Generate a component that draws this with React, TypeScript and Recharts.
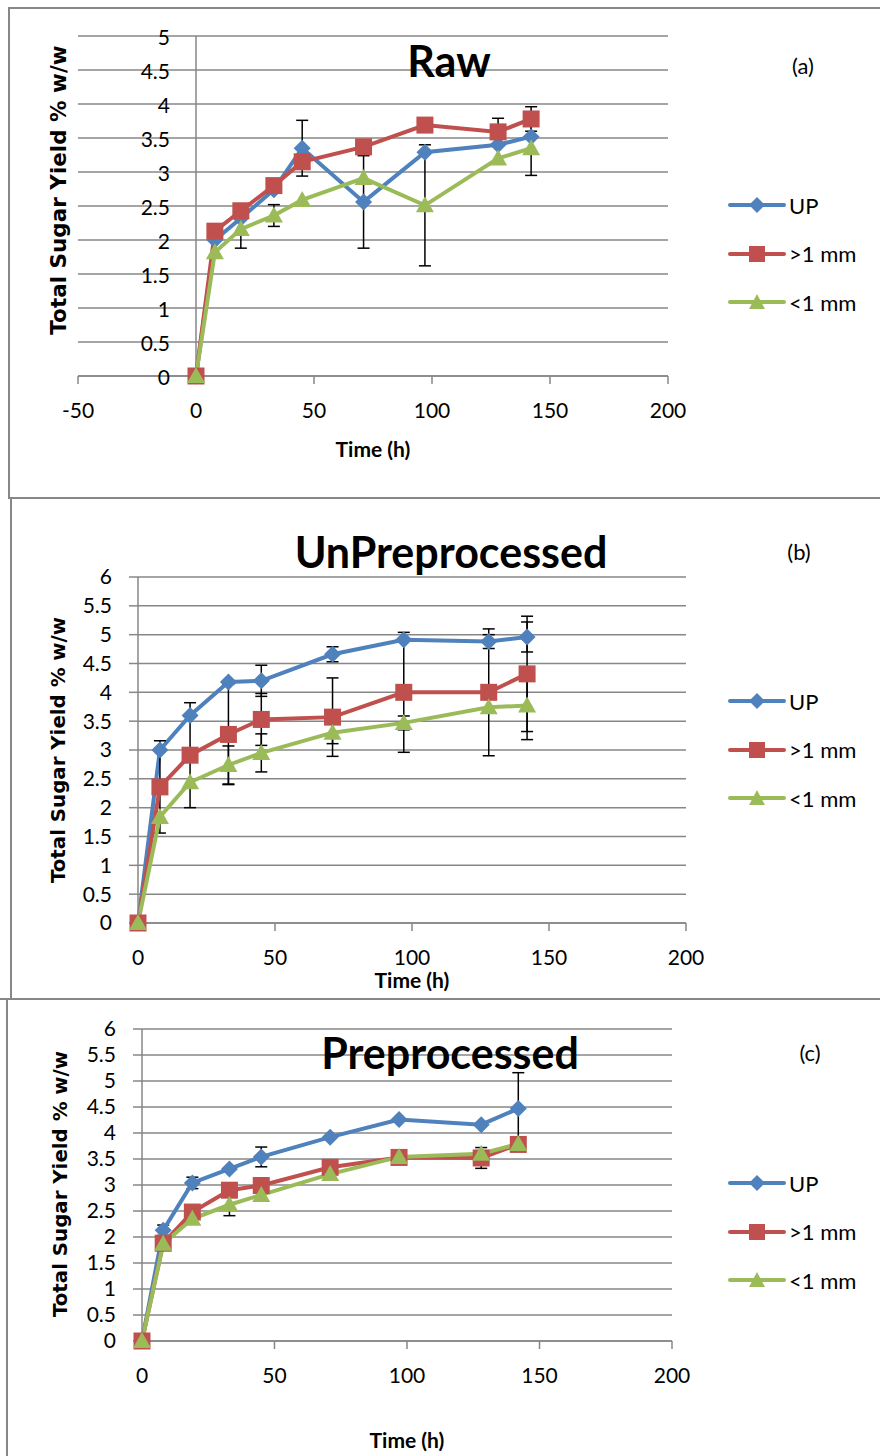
import React from 'react'
import {
  LineChart,
  Line,
  XAxis,
  YAxis,
  CartesianGrid,
  ErrorBar,
  ReferenceLine,
  Legend,
} from 'recharts'

const FONT = 'Lato, "Open Sans", sans-serif'
const LABEL_FONT = '"DejaVu Sans", Verdana, sans-serif'
const GRID = '#878787'
const BLUE = '#4f81bd'
const RED = '#c0504d'
const GREEN = '#9bbb59'
const WIDTH = 880

// sampling times (h), shared by all three panels
const hours = [0, 8, 19, 33, 45, 71, 97, 128, 142]
const seriesNames = ['UP', '>1 mm', '<1 mm']

// (a) Raw
const rawUp = [0, 2.0, 2.32, 2.74, 3.35, 2.56, 3.29, 3.4, 3.52]
const rawUpErr = [0, 0, 0, 0, 0.41, 0.68, 0, 0, 0]
const rawOver = [0, 2.13, 2.43, 2.8, 3.15, 3.37, 3.69, 3.59, 3.78]
const rawOverErr = [0, 0, 0, 0, 0, 0, 0, 0.2, 0.18]
const rawUnder = [0, 1.82, 2.16, 2.36, 2.59, 2.91, 2.51, 3.2, 3.35]
const rawUnderErr = [0, 0, 0.28, 0.16, 0, 0, 0.89, 0, 0.4]

// (b) UnPreprocessed
const unUp = [0, 3.0, 3.6, 4.18, 4.2, 4.66, 4.91, 4.88, 4.96]
const unUpErr = [0, 0, 0, 0, 0.27, 0.13, 0, 0.12, 0.26]
const unOver = [0, 2.36, 2.91, 3.27, 3.53, 3.57, 4.0, 4.0, 4.32]
const unOverErr = [0, 0.8, 0.91, 0.87, 0.45, 0.68, 1.04, 1.1, 1.0]
const unUnder = [0, 1.84, 2.44, 2.74, 2.95, 3.3, 3.47, 3.74, 3.77]
const unUnderErr = [0, 0, 0, 0.33, 0.33, 0.19, 0.12, 0, 0.59]

// (c) Preprocessed
const preUp = [0, 2.13, 3.04, 3.31, 3.54, 3.92, 4.26, 4.16, 4.47]
const preUpErr = [0, 0.1, 0.11, 0, 0.19, 0, 0, 0, 0.69]
const preOver = [0, 1.88, 2.48, 2.9, 2.99, 3.34, 3.53, 3.52, 3.78]
const preOverErr = [0, 0, 0, 0, 0, 0, 0, 0.2, 0]
const preUnder = [0, 1.87, 2.35, 2.62, 2.81, 3.21, 3.54, 3.6, 3.79]
const preUnderErr = [0, 0, 0, 0.21, 0, 0, 0, 0, 0]

const xTicksRaw = [-50, 0, 50, 100, 150, 200]
const xTicks = [0, 50, 100, 150, 200]
const yTicks5 = [0, 0.5, 1, 1.5, 2, 2.5, 3, 3.5, 4, 4.5, 5]
const yTicks6 = [0, 0.5, 1, 1.5, 2, 2.5, 3, 3.5, 4, 4.5, 5, 5.5, 6]

function buildRows(
  up: number[], upErr: number[],
  over: number[], overErr: number[],
  under: number[], underErr: number[],
) {
  return hours.map((t, i) => ({
    t,
    up: up[i], upErr: upErr[i],
    over: over[i], overErr: overErr[i],
    under: under[i], underErr: underErr[i],
  }))
}

function diamond(p: any) {
  const { cx, cy, index } = p
  const r = 8.5
  return (
    <polygon
      key={`d${index}`}
      points={`${cx},${cy - r} ${cx + r},${cy} ${cx},${cy + r} ${cx - r},${cy}`}
      fill={BLUE}
    />
  )
}

function square(p: any) {
  const { cx, cy, index } = p
  const r = 8.5
  return <rect key={`s${index}`} x={cx - r} y={cy - r} width={r * 2} height={r * 2} fill={RED} />
}

function triangle(p: any) {
  const { cx, cy, index } = p
  return (
    <polygon
      key={`t${index}`}
      points={`${cx},${cy - 9} ${cx + 9},${cy + 7} ${cx - 9},${cy + 7}`}
      fill={GREEN}
    />
  )
}

function LegendMarker({ i }: { i: number }) {
  const color = [BLUE, RED, GREEN][i]
  return (
    <svg width={60} height={20} style={{ display: 'block' }}>
      <line x1={3} y1={10} x2={57} y2={10} stroke={color} strokeWidth={4} strokeLinecap="round" />
      {i === 0 && <polygon points="30,2 38,10 30,18 22,10" fill={color} />}
      {i === 1 && <rect x={22} y={2} width={16} height={16} fill={color} />}
      {i === 2 && <polygon points="30,2 38,17 22,17" fill={color} />}
    </svg>
  )
}

function renderLegend() {
  return (
    <div>
      {seriesNames.map((name, i) => (
        <div key={name} style={{ display: 'flex', alignItems: 'center', height: 48.5 }}>
          <LegendMarker i={i} />
          <span style={{ fontFamily: FONT, fontSize: 22, color: '#000', marginLeft: 2 }}>{name}</span>
        </div>
      ))}
    </div>
  )
}

type PanelProps = {
  top: number
  height: number
  rows: ReturnType<typeof buildRows>
  xMin: number
  xTickList: number[]
  yMax: number
  yTickList: number[]
  margin: { top: number; right: number; left: number; bottom: number }
  yAxisWidth: number
  xAxisHeight: number
  labelOffset: number
  crossAtZero: boolean
  legendTop: number
  title: string
  titleX: number
  titleY: number
  tag: string
  tagX: number
  tagY: number
  yLabelX: number
  yLabelY: number
  yLabelSize: number
}

function Panel(p: PanelProps) {
  const plotLeft = p.margin.left + p.yAxisWidth
  const plotWidth = WIDTH - plotLeft - p.margin.right
  const zeroX = plotLeft + ((0 - p.xMin) / (200 - p.xMin)) * plotWidth

  const zeroTick = (t: any) => (
    <text
      x={zeroX - 26}
      y={t.y}
      textAnchor="end"
      dominantBaseline="central"
      fontSize={21}
      fontFamily={FONT}
      fill="#000"
    >
      {t.payload.value}
    </text>
  )

  return (
    <div style={{ position: 'absolute', left: 0, top: p.top, width: WIDTH, height: p.height }}>
      <LineChart width={WIDTH} height={p.height} data={p.rows} margin={p.margin}>
        <CartesianGrid vertical={false} stroke={GRID} strokeWidth={1.5} />
        <XAxis
          type="number"
          dataKey="t"
          domain={[p.xMin, 200]}
          ticks={p.xTickList}
          interval={0}
          height={p.xAxisHeight}
          axisLine={{ stroke: GRID, strokeWidth: 1.5 }}
          tickLine={{ stroke: GRID, strokeWidth: 1.5 }}
          tickSize={8}
          tickMargin={19}
          tick={{ fontSize: 21, fill: '#000', fontFamily: FONT }}
          label={{
            value: 'Time (h)',
            position: 'insideBottom',
            offset: p.labelOffset,
            fontSize: 21,
            fontWeight: 700,
            fill: '#000',
            fontFamily: FONT,
          }}
        />
        {p.crossAtZero ? (
          <YAxis
            type="number"
            domain={[0, p.yMax]}
            ticks={p.yTickList}
            interval={0}
            width={p.yAxisWidth}
            axisLine={false}
            tickLine={false}
            tick={zeroTick}
          />
        ) : (
          <YAxis
            type="number"
            domain={[0, p.yMax]}
            ticks={p.yTickList}
            interval={0}
            width={p.yAxisWidth}
            axisLine={{ stroke: GRID, strokeWidth: 1.5 }}
            tickLine={{ stroke: GRID, strokeWidth: 1.5 }}
            tickSize={9}
            tickMargin={17}
            tick={{ fontSize: 21, fill: '#000', fontFamily: FONT }}
          />
        )}
        {p.crossAtZero && <ReferenceLine x={0} stroke={GRID} strokeWidth={1.5} />}
        <Line
          dataKey="up"
          name={seriesNames[0]}
          stroke={BLUE}
          strokeWidth={4}
          dot={diamond}
          activeDot={false}
          isAnimationActive={false}
        >
          <ErrorBar dataKey="upErr" direction="y" width={6} stroke="#000" strokeWidth={1.5} isAnimationActive={false} />
        </Line>
        <Line
          dataKey="over"
          name={seriesNames[1]}
          stroke={RED}
          strokeWidth={4}
          dot={square}
          activeDot={false}
          isAnimationActive={false}
        >
          <ErrorBar dataKey="overErr" direction="y" width={6} stroke="#000" strokeWidth={1.5} isAnimationActive={false} />
        </Line>
        <Line
          dataKey="under"
          name={seriesNames[2]}
          stroke={GREEN}
          strokeWidth={4}
          dot={triangle}
          activeDot={false}
          isAnimationActive={false}
        >
          <ErrorBar dataKey="underErr" direction="y" width={6} stroke="#000" strokeWidth={1.5} isAnimationActive={false} />
        </Line>
        <Legend
          content={renderLegend}
          layout="vertical"
          align="center"
          verticalAlign="middle"
          wrapperStyle={{ left: 727, top: p.legendTop, width: 150 }}
        />
      </LineChart>
      <div
        style={{
          position: 'absolute',
          left: p.titleX,
          top: p.titleY,
          transform: 'translate(-50%, -50%)',
          fontFamily: FONT,
          fontWeight: 700,
          fontSize: 43,
          whiteSpace: 'nowrap',
          pointerEvents: 'none',
        }}
      >
        {p.title}
      </div>
      <div
        style={{
          position: 'absolute',
          left: p.tagX,
          top: p.tagY,
          transform: 'translate(-50%, -50%)',
          fontFamily: FONT,
          fontSize: 22,
          whiteSpace: 'nowrap',
        }}
      >
        {p.tag}
      </div>
      <div
        style={{
          position: 'absolute',
          left: p.yLabelX,
          top: p.yLabelY,
          transform: 'translate(-50%, -50%) rotate(-90deg)',
          fontFamily: LABEL_FONT,
          fontWeight: 700,
          fontSize: p.yLabelSize,
          whiteSpace: 'nowrap',
        }}
      >
        Total Sugar Yield % w/w
      </div>
    </div>
  )
}

const line = (left: number, top: number, width: number, height: number) => (
  <div style={{ position: 'absolute', left, top, width, height, background: GRID }} />
)

export default function App() {
  return (
    <div
      style={{
        position: 'absolute',
        left: 0,
        top: 0,
        width: 880,
        height: 1456,
        background: '#fff',
        overflow: 'hidden',
      }}
    >
      <Panel
        top={0}
        height={497}
        rows={buildRows(rawUp, rawUpErr, rawOver, rawOverErr, rawUnder, rawUnderErr)}
        xMin={-50}
        xTickList={xTicksRaw}
        yMax={5}
        yTickList={yTicks5}
        margin={{ top: 36, right: 212, left: 38, bottom: 0 }}
        yAxisWidth={40}
        xAxisHeight={121}
        labelOffset={40}
        crossAtZero
        legendTop={181}
        title="Raw"
        titleX={449}
        titleY={60}
        tag="(a)"
        tagX={803}
        tagY={65}
        yLabelX={58}
        yLabelY={190}
        yLabelSize={21.5}
      />
      <Panel
        top={500}
        height={498}
        rows={buildRows(unUp, unUpErr, unOver, unOverErr, unUnder, unUnderErr)}
        xMin={0}
        xTickList={xTicks}
        yMax={6}
        yTickList={yTicks6}
        margin={{ top: 77, right: 194, left: 88, bottom: 0 }}
        yAxisWidth={50}
        xAxisHeight={75}
        labelOffset={10}
        crossAtZero={false}
        legendTop={177}
        title="UnPreprocessed"
        titleX={451}
        titleY={51}
        tag="(b)"
        tagX={799}
        tagY={51}
        yLabelX={58}
        yLabelY={250}
        yLabelSize={19.8}
      />
      <Panel
        top={998}
        height={458}
        rows={buildRows(preUp, preUpErr, preOver, preOverErr, preUnder, preUnderErr)}
        xMin={0}
        xTickList={xTicks}
        yMax={6}
        yTickList={yTicks6}
        margin={{ top: 31, right: 208, left: 92, bottom: 0 }}
        yAxisWidth={50}
        xAxisHeight={115}
        labelOffset={8}
        crossAtZero={false}
        legendTop={161}
        title="Preprocessed"
        titleX={450}
        titleY={54}
        tag="(c)"
        tagX={810}
        tagY={54}
        yLabelX={60}
        yLabelY={186}
        yLabelSize={19.8}
      />
      {line(8, 7, 872, 1.5)}
      {line(8, 7, 1.5, 490)}
      {line(8, 497, 872, 1.5)}
      {line(10, 498, 1.5, 500)}
      {line(0, 998, 880, 1.5)}
      {line(6, 998, 1.5, 458)}
    </div>
  )
}
